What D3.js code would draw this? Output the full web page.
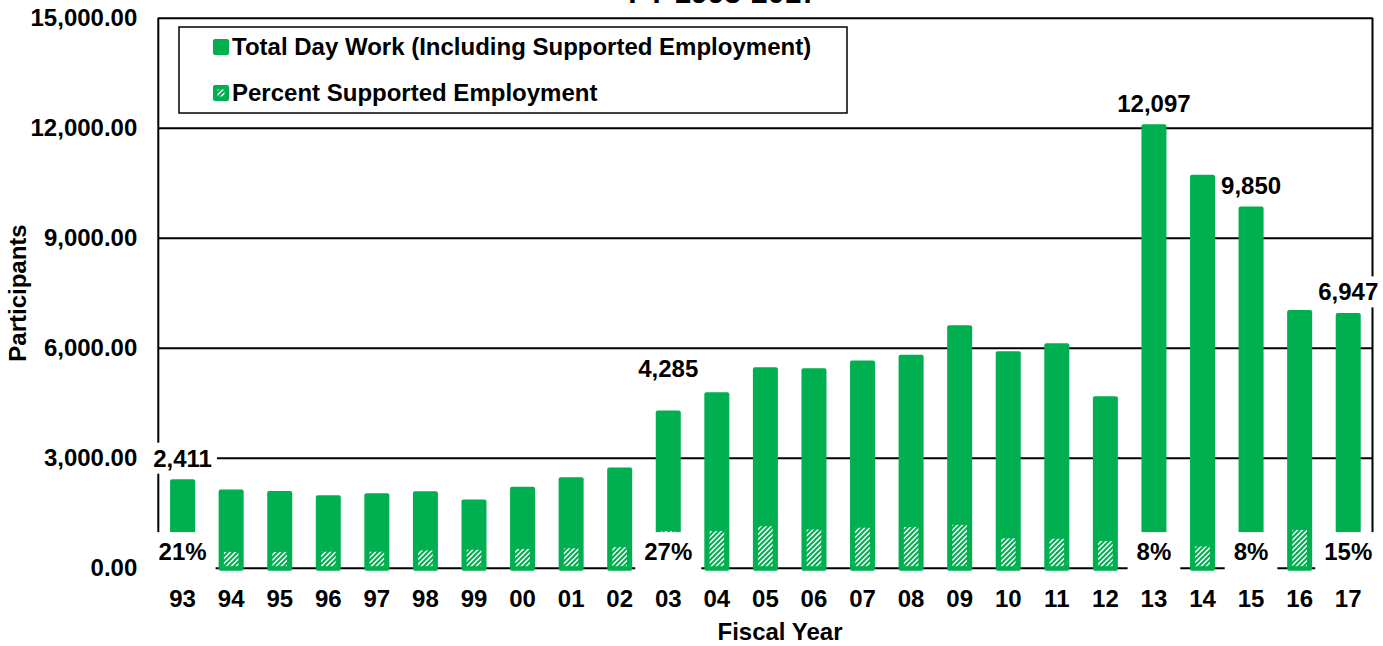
<!DOCTYPE html>
<html>
<head>
<meta charset="utf-8">
<script src="https://cdn.jsdelivr.net/npm/d3@7"></script>
<style>
  html, body { margin: 0; padding: 0; background: #fff; }
  svg { display: block; }
  text { font-family: "Liberation Sans", Arial, sans-serif; font-weight: bold; fill: #000; }
</style>
</head>
<body>
<svg id="chart" width="1383" height="646"></svg>
<script>
// ---------------- data ----------------
const titleText = "FY 1993-2017";
const years = ["93","94","95","96","97","98","99","00","01","02","03","04","05","06","07","08","09","10","11","12","13","14","15","16","17"];
const totalDayWork = [2411, 2130, 2095, 1975, 2030, 2085, 1860, 2210, 2465, 2730, 4285, 4785, 5465, 5440, 5650, 5810, 6610, 5900, 6120, 4675, 12097, 10720, 9850, 7030, 6947];
const supportedEmployment = [506, 430, 430, 435, 435, 470, 490, 510, 530, 560, 1000, 1000, 1130, 1040, 1090, 1110, 1170, 800, 790, 730, 900, 580, 700, 1030, 950];
const percentLabels = ["21%","","","","","","","","","","27%","","","","","","","","","","8%","","8%","","15%"];
const showValueLabel = ["93","03","13","15","17"];
const yTicks = [0, 3000, 6000, 9000, 12000, 15000];
const seriesNames = ["Total Day Work (Including Supported Employment)", "Percent Supported Employment"];
const xTitle = "Fiscal Year";
const yTitle = "Participants";

// ---------------- layout ----------------
const green = "#00B050";
const svg = d3.select("#chart");
const pLeft = 158.3, pRight = 1372.5, pTop = 17.7, pBottom = 567.7;
const x = d3.scaleBand().domain(years).range([pLeft, pRight]).padding(0);
const y = d3.scaleLinear().domain([0, 15000]).range([pBottom, pTop]);
const fontSize = 24;
const ff = "Liberation Sans, Arial, sans-serif";

// pattern for hatched bars
const defs = svg.append("defs");
const pat = defs.append("pattern").attr("id", "hatch")
  .attr("patternUnits", "userSpaceOnUse").attr("width", 5).attr("height", 5);
pat.append("rect").attr("width", 5).attr("height", 5).attr("fill", "#fff");
pat.append("path").attr("d", "M-1,1 l2,-2 M0,5 l5,-5 M4,6 l2,-2")
  .attr("stroke", green).attr("stroke-width", 2);

// title (mostly cut off at the top, as in the original)
svg.append("text").attr("x", 723).attr("y", 3).attr("text-anchor", "middle")
  .style("font-size", "30px").text(titleText);

// y axis with gridlines
const yAxis = d3.axisLeft(y).tickValues(yTicks).tickFormat(d3.format(",.2f"))
  .tickSize(-(pRight - pLeft)).tickPadding(21);
const gy = svg.append("g").attr("transform", `translate(${pLeft},0)`).call(yAxis);
gy.select(".domain").remove();
gy.selectAll(".tick line").attr("stroke", "#000").attr("stroke-width", 2);
gy.selectAll(".tick text").style("font-size", fontSize + "px").style("font-family", ff).style("font-weight", "bold");

// plot border (left and right)
svg.append("line").attr("x1", pLeft).attr("x2", pLeft).attr("y1", pTop).attr("y2", pBottom)
  .attr("stroke", "#000").attr("stroke-width", 2);
svg.append("line").attr("x1", pRight).attr("x2", pRight).attr("y1", pTop).attr("y2", pBottom)
  .attr("stroke", "#000").attr("stroke-width", 2);

// x axis
const xAxis = d3.axisBottom(x).tickSize(0).tickPadding(22);
const gx = svg.append("g").attr("transform", `translate(0,${pBottom})`).call(xAxis);
gx.select(".domain").remove();
gx.selectAll(".tick text").style("font-size", fontSize + "px").style("font-family", ff).style("font-weight", "bold");

// bars
const bw = x.bandwidth() * 0.515;
svg.append("g").selectAll("rect").data(years).join("rect")
  .attr("x", (d) => x(d) + (x.bandwidth() - bw) / 2)
  .attr("y", (d, i) => y(totalDayWork[i]))
  .attr("width", bw)
  .attr("height", (d, i) => y(0) - y(totalDayWork[i]) + 3)
  .attr("rx", 2)
  .attr("fill", green);

// hatched bars
const hw = x.bandwidth() * 0.3;
svg.append("g").selectAll("rect").data(years).join("rect")
  .attr("x", (d) => x(d) + (x.bandwidth() - hw) / 2)
  .attr("y", (d, i) => y(supportedEmployment[i]))
  .attr("width", hw)
  .attr("height", (d, i) => y(0) - y(supportedEmployment[i]) - 1.5)
  .attr("fill", "url(#hatch)");

// labels with white boxes
function boxedLabel(g, cx, cy, txt, padX, padY) {
  const grp = g.append("g");
  const rect = grp.append("rect").attr("fill", "#fff");
  const t = grp.append("text").attr("x", cx).attr("y", cy).attr("dy", "0.35em")
    .attr("text-anchor", "middle").style("font-size", fontSize + "px").text(txt);
  const bb = t.node().getBBox();
  rect.attr("x", bb.x - padX).attr("y", bb.y - padY)
    .attr("width", bb.width + 2 * padX).attr("height", bb.height + 2 * padY);
}
const labelsG = svg.append("g");
const fmt = d3.format(",");
const lift = { "03": 42 };
years.forEach((yr, i) => {
  if (showValueLabel.includes(yr)) {
    const off = lift[yr] || 21;
    boxedLabel(labelsG, x(yr) + x.bandwidth() / 2, y(totalDayWork[i]) - off, fmt(totalDayWork[i]), 5, 2);
  }
  if (percentLabels[i]) {
    boxedLabel(labelsG, x(yr) + x.bandwidth() / 2, y(0) - 16, percentLabels[i], 9, 6);
  }
});

// axis titles
svg.append("text").attr("x", 780).attr("y", 640).attr("text-anchor", "middle")
  .style("font-size", fontSize + "px").text(xTitle);
svg.append("text").attr("transform", "translate(26,293) rotate(-90)").attr("text-anchor", "middle")
  .style("font-size", fontSize + "px").text(yTitle);

// legend
const lg = svg.append("g");
lg.append("rect").attr("x", 179).attr("y", 27).attr("width", 668).attr("height", 86)
  .attr("fill", "#fff").attr("stroke", "#000").attr("stroke-width", 1.5);
lg.append("rect").attr("x", 213).attr("y", 39).attr("width", 16).attr("height", 16).attr("rx", 2).attr("fill", green);
lg.append("text").attr("x", 232).attr("y", 55).style("font-size", fontSize + "px").text(seriesNames[0]);
lg.append("rect").attr("x", 213).attr("y", 85).attr("width", 16).attr("height", 16).attr("rx", 2).attr("fill", green);
lg.append("rect").attr("x", 217.5).attr("y", 89.5).attr("width", 7).attr("height", 7).attr("fill", "url(#hatch)");
lg.append("text").attr("x", 232).attr("y", 101).style("font-size", fontSize + "px").text(seriesNames[1]);
</script>
</body>
</html>
